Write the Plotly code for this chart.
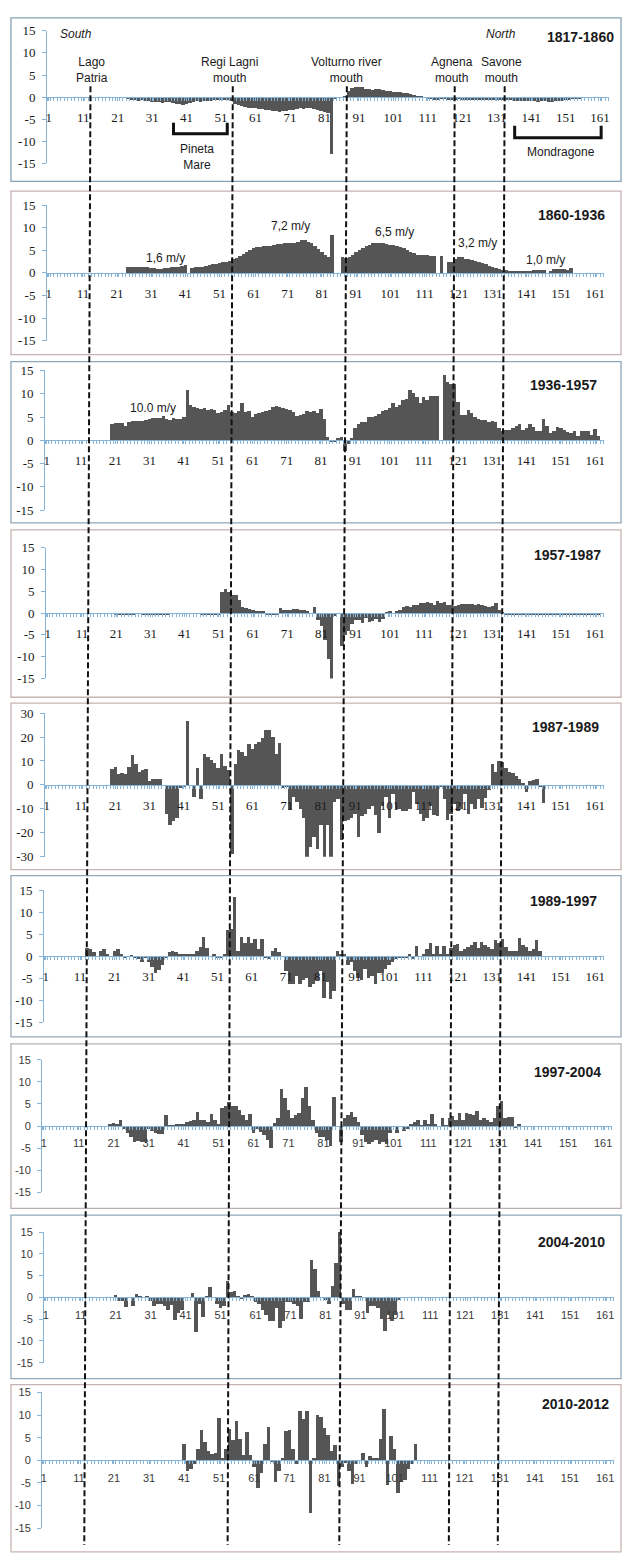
import plotly.graph_objects as go

W, H = 626, 1553

transects = list(range(1, 163))
x_tick_labels = [1, 11, 21, 31, 41, 51, 61, 71, 81, 91, 101, 111, 121, 131, 141, 151, 161]

periods = ["1817-1860", "1860-1936", "1936-1957", "1957-1987", "1987-1989",
           "1989-1997", "1997-2004", "2004-2010", "2010-2012"]

r1817 = [0, 0, 0, 0, 0, 0, 0, 0, 0, 0,
         0, 0, 0, 0, 0, 0, 0, 0, 0, 0,
         0, 0, 0, -0.3, -0.5, -0.5, -0.8, -0.6, -0.8, -0.9,
         -1.0, -1.1, -1.0, -1.2, -1.1, -1.0, -1.3, -1.5, -1.6, -1.7,
         -1.4, -1.2, -1.0, -0.9, -1.0, -0.8, -0.9, -0.8, -0.7, -0.6,
         -0.6, -0.5, -0.5, -0.8, -1.5, -1.8, -2.0, -2.2, -2.3, -2.4,
         -2.5, -2.6, -2.7, -2.8, -2.9, -3.0, -3.1, -3.2, -3.0, -3.1,
         -2.9, -2.8, -2.6, -2.5, -2.7, -2.4, -2.3, -2.6, -2.8, -3.0,
         -3.4, -3.6, -12.7, -0.3, 0, 0, 0.3, 1.5, 2.2, 2.4,
         2.4, 2.3, 2.0, 1.8, 1.7, 1.9, 1.8, 1.6, 1.5, 1.4,
         1.3, 1.2, 1.1, 1.0, 0.9, 0.8, 0.6, 0.4, 0.2, 0,
         -0.3, -0.4, -0.5, -0.5, -0.4, -0.3, -0.5, -0.6, -0.5, -0.4,
         -0.5, -0.6, -0.7, -0.6, -0.7, -0.6, -0.5, -0.6, -0.7, -0.6,
         -0.5, -0.6, -0.7, -0.6, -0.7, -0.8, -0.8, -0.9, -0.8, -0.9,
         -0.8, -0.9, -1.0, -0.8, -0.9, -1.0, -1.1, -0.9, -0.8, -0.9,
         -0.7, -0.6, -0.4, -0.3, -0.2, 0, 0, 0, 0, 0,
         0, 0]

r1860 = [0, 0, 0, 0, 0, 0, 0, 0, 0, 0,
         0, 0, 0, 0, 0, 0, 0, 0, 0, 0,
         0, 0, 0, 1.3, 1.4, 1.4, 1.3, 1.3, 1.2, 1.2,
         1.1, 1.0, 0.9, 0.9, 1.0, 1.1, 1.2, 1.3, 1.4, 1.5,
         1.7, 0, 1.1, 1.2, 1.3, 1.4, 1.6, 1.8, 1.9, 2.0,
         2.2, 2.3, 2.5, 2.7, 3.0, 3.3, 3.7, 4.1, 4.5, 5.0,
         5.4, 5.7, 5.8, 5.9, 6.0, 6.0, 6.1, 6.3, 6.4, 6.5,
         6.5, 6.6, 6.6, 6.8, 7.2, 7.2, 6.9, 6.6, 6.0, 5.2,
         4.5, 4.0, 3.6, 8.3, 0, 0, 3.4, 3.3, 3.6, 4.0,
         4.5, 5.0, 5.5, 5.9, 6.2, 6.5, 6.6, 6.6, 6.5, 6.3,
         6.2, 6.2, 6.0, 5.8, 5.5, 5.0, 4.6, 4.3, 4.0, 4.0,
         3.9, 3.9, 3.8, 3.8, 0, 3.7, 0, 2.3, 2.4, 3.0,
         3.5, 3.4, 3.1, 3.0, 2.8, 2.7, 2.5, 2.2, 1.9, 1.6,
         1.3, 1.0, 0.8, 0.6, 0.6, 0.5, 0.4, 0.3, 0.3, 0.2,
         0.4, 0.5, 0.6, 0.6, 0.7, 0.7, 0, 0.2, 0.8, 0.9,
         0.9, 0.8, 0.7, 1.1, 0, 0, 0, 0, 0, 0,
         0, 0]

r1936 = [0, 0, 0, 0, 0, 0, 0, 0, 0, 0,
         0, 0, 0, 0, 0, 0, 0, 0, 0, 3.5,
         3.7, 3.7, 3.6, 3.0, 3.8, 4.0, 4.0, 4.1, 4.0, 4.2,
         4.5, 4.6, 4.6, 4.7, 5.2, 4.5, 4.3, 4.6, 4.4, 4.5,
         4.8, 10.6, 7.5, 7.0, 6.8, 6.6, 6.8, 6.5, 6.6, 6.4,
         5.8, 6.0, 6.5, 7.5, 6.0, 5.8, 6.2, 8.0, 6.0, 6.3,
         5.0, 5.5, 5.7, 6.0, 6.2, 6.5, 7.0, 7.3, 7.0, 6.8,
         6.7, 6.5, 6.0, 5.2, 5.3, 5.5, 6.2, 6.0, 6.1, 5.8,
         6.6, 4.5, 0.5, -0.5, -0.5, 0.3, 0.6, -2.5, -1.0, 0.3,
         2.5, 3.5, 3.8, 3.8, 5.0, 4.8, 5.2, 5.5, 6.3, 6.5,
         6.8, 7.9, 7.0, 7.5, 8.5, 8.8, 10.7, 10.0, 9.2, 8.0,
         9.2, 8.5, 9.5, 9.5, 9.5, 0, 14.0, 12.5, 12.0, 12.0,
         8.2, 5.3, 5.3, 6.5, 5.8, 5.0, 4.5, 4.2, 4.3, 3.8,
         4.0, 3.9, 2.5, 2.0, 2.1, 2.2, 2.6, 3.0, 3.5, 2.1,
         2.5, 3.3, 2.8, 2.0, 1.8, 4.5, 3.0, 1.5, 2.0, 2.8,
         2.5, 2.1, 1.7, 1.5, 1.8, 0.8, 2.0, 1.8, 2.0, 1.0,
         2.3, 0.8]

r1957 = [0, 0, 0, 0, 0, 0, 0, 0, 0, 0,
         0, 0, 0, 0, 0, 0, 0, 0, 0, 0,
         -0.2, -0.2, -0.2, -0.2, -0.2, -0.2, 0, 0, -0.2, -0.2,
         -0.2, -0.2, -0.2, -0.2, -0.2, -0.2, 0, 0, 0, 0,
         0, 0, 0, 0, 0, -0.2, -0.2, -0.2, -0.2, -0.2,
         -0.3, 5.0, 5.5, 5.0, 4.3, 4.2, 3.0, 1.5, 1.3, 1.0,
         0.7, 0.6, 0.6, 0.5, -0.3, -0.3, -0.3, -0.3, 1.2, 0.7,
         0.7, 0.7, 1.0, 0.9, 0.8, 0.7, 0.5, 0, 1.5, -1.5,
         -3.0, -6.0, -10.5, -15.0, -0.5, 0, -7.5, -5.0, -4.0, -2.5,
         -1.5, -1.5, -2.3, -1.0, -2.0, -1.8, -1.3, -2.0, -1.2, 0.3,
         0.5, 0, 0.5, 0.8, 1.5, 1.8, 1.5, 2.0, 2.0, 2.4,
         2.3, 2.5, 2.3, 2.0, 2.8, 2.3, 2.5, 2.0, 2.0, 1.8,
         2.0, 2.1, 2.2, 2.1, 2.2, 2.0, 2.2, 2.0, 1.8, 1.5,
         1.8, 2.4, 0.8, 0.3, -0.2, -0.2, -0.2, -0.2, -0.2, -0.2,
         -0.2, -0.2, -0.2, -0.2, -0.2, -0.2, -0.2, -0.2, -0.2, -0.2,
         -0.2, -0.2, -0.2, -0.2, -0.2, -0.2, -0.2, -0.2, -0.2, -0.2,
         -0.2, -0.2]

r1987 = [0, 0, 0, 0, 0, 0, 0, 0, 0, 0,
         0, 0, 0, 0, 0, 0, 0, 0, 0, 6.5,
         7.3, 4.5, 5.0, 4.5, 7.5, 12.5, 8.5, 5.5, 6.0, 6.5,
         1.5, 2.5, 2.5, 2.3, 0, -12.0, -17.0, -15.0, -14.0, -1.5,
         -1.0, 26.5, 0, -5.0, 7.0, -6.0, 13.0, 11.5, 10.5, 9.0,
         7.0, 13.0, 8.0, 6.0, -29.0, 8.5, 14.5, 13.5, 12.0, 17.0,
         15.0, 17.0, 18.0, 19.5, 23.0, 23.0, 20.0, 13.0, 17.5, -1.5,
         -1.0, -10.5, -5.0, -7.0, -10.0, -14.0, -30.0, -26.0, -22.0, -27.0,
         -17.0, -30.0, -17.0, -30.0, -7.0, -6.0, -23.0, -15.0, -14.5, -14.0,
         -12.0, -22.0, -13.0, -12.0, -10.0, -9.0, -12.5, -20.0, -9.0, -5.0,
         -14.0, -4.0, -10.0, -10.0, -11.0, -11.0, -10.0, -3.0, -8.0, -12.0,
         -15.0, -14.0, -9.0, -12.5, -13.0, -1.0, -6.0, -14.5, -12.0, -8.0,
         -11.0, -10.0, -4.0, -12.0, -8.0, -10.0, -6.0, -9.5, -5.5, -2.0,
         8.5, 5.5, 10.0, 9.5, 7.0, 5.5, 5.0, 3.5, 2.5, 0.5,
         -3.0, 1.5, 2.0, 2.5, -1.0, -7.5, 0, 0, 0, 0,
         0, 0, 0, 0, 0, 0, 0, 0, 0, 0,
         0, 0]

r1989 = [0, 0, 0, 0, 0, 0, 0, 0, 0, 0,
         0, 0, 1.8, 1.5, 0.8, 0, 1.2, 1.5, 0.5, 0,
         1.2, 1.6, 0.5, -0.5, 0, -0.3, -0.5, -0.8, -1.3, -0.5,
         -1.5, -2.5, -3.8, -3.2, -2.0, -0.5, 0.8, 1.0, 0.8, 0.5,
         0.2, 0.2, 0.2, 0.5, 1.0, 2.0, 4.2, 1.8, 0, 0.5,
         -0.5, -0.6, 0.2, 5.8, 6.2, 13.5, 1.0, 4.2, 3.0, 4.3,
         3.0, 3.8, 1.5, 3.8, -0.5, -0.8, 1.0, 1.8, 0.8, 0,
         -3.5, -6.5, -6.5, -4.5, -6.5, -5.5, -5.0, -7.0, -6.5, -5.5,
         -3.5, -9.5, -6.0, -9.8, -8.0, 1.0, 0.5, 0.5, -2.0, -1.5,
         -3.5, -5.0, -5.5, -3.0, -5.0, -4.5, -6.5, -4.0, -4.0, -3.0,
         -2.0, -1.5, -0.8, -0.5, -0.5, -0.5, 0.5, -0.8, 2.2, 0,
         0.5, 1.5, 3.0, 0.5, 2.2, 0.5, 2.2, 0.5, 1.8, 2.5,
         2.6, 1.0, 1.5, 2.0, 2.5, 3.2, 1.8, 3.2, 2.5, 2.0,
         1.5, 3.5, 3.0, 3.8, 2.0, 1.2, 1.2, 1.2, 4.0, 2.5,
         2.0, 1.2, 1.5, 3.5, 1.0, 0, 0, 0, 0, 0,
         0, 0, 0, 0, 0, 0, 0, 0, 0, 0,
         0, 0]

r1997 = [0, 0, 0, 0, 0, 0, 0, 0, 0, 0,
         0, 0, 0, 0, 0, 0, 0, 0, 0, 0.5,
         0.8, 0.6, 1.5, -0.5, -1.5, -2.5, -3.5, -3.3, -3.5, -3.5,
         -0.5, -1.0, -1.5, -1.8, -1.8, 2.5, 0.2, 0.3, 0.5, 0.6,
         0.5, 1.0, 1.2, 1.5, 3.2, 1.5, 1.5, 1.0, 2.8, 1.5,
         0.5, 4.2, 4.5, 5.5, 4.5, 4.5, 3.8, 2.5, 1.5, 2.8,
         -1.5, -0.5, -1.2, -2.0, -3.0, -4.8, 0.8, 1.8, 8.5, 6.5,
         3.8, 2.0, 2.5, 3.0, 6.5, 9.0, 4.5, 1.5, -1.5, -2.5,
         -2.5, -3.0, -4.5, 6.7, 0, -3.5, 2.0, 2.5, 3.2, 2.2,
         1.0, -2.0, -3.5, -4.0, -3.5, -3.0, -4.0, -3.5, -4.0, -1.5,
         0, -1.5, 0, -1.0, -0.5, 0.5, 1.0, 1.5, 0.3, 1.5,
         0.5, 2.8, 0.5, 0, 1.8, 0.3, 2.0, 2.3, 1.5, 3.0,
         1.5, 3.0, 2.7, 2.5, 3.5, 1.5, 1.8, 1.5, 1.0, 2.0,
         4.5, 5.8, 2.0, 2.2, 2.2, -0.3, 0.5, 0, 0, 0,
         0, 0, 0, 0, 0, 0, 0, 0, 0, 0,
         0, 0, 0, 0, 0, 0, 0, 0, 0, 0,
         0, 0]

r2004 = [0, 0, 0, 0, 0, 0, 0, 0, 0, 0,
         0, 0, 0, 0, 0, 0, 0, 0, 0, 0,
         0.6, -0.8, -0.8, -2.3, 0, -2.0, 0.8, 0.3, 0, 0.4,
         -0.8, -2.0, -1.5, -1.5, -2.0, -3.0, -1.8, -5.3, -3.5, -3.0,
         0, 0, 1.0, -8.0, -1.5, -4.5, 0.3, 2.3, 0, -1.5,
         -2.5, -2.0, 3.8, 1.2, 1.5, 0.3, -0.3, 0.5, 0.7, 0.4,
         -1.0, -1.5, -3.0, -4.0, -5.5, -5.5, -2.5, -7.0, -5.5, -1.0,
         -1.0, -1.5, -2.0, -5.0, -1.0, -1.0, 8.5, 6.5, 1.5, 0,
         -0.5, -1.5, 2.5, 8.0, 15.0, -1.5, -3.0, -3.0, 2.0, 0.3,
         0.3, 0, -3.5, -2.0, -2.0, -2.5, -5.0, -7.8, -4.0, -5.5,
         -4.0, -0.5, 0, 0, 0, 0, 0, 0, 0, 0,
         0, 0, 0, 0, 0, 0, 0, 0, 0, 0,
         0, 0, 0, 0, 0, 0, 0, 0, 0, 0,
         0, 0, 0, 0, 0, 0, 0, 0, 0, 0,
         0, 0, 0, 0, 0, 0, 0, 0, 0, 0,
         0, 0, 0, 0, 0, 0, 0, 0, 0, 0,
         0, 0]

r2010 = [0, 0, 0, 0, 0, 0, 0, 0, 0, 0,
         0, 0, 0, 0, 0, 0, 0, 0, 0, 0,
         0, 0, 0, 0, 0, 0, 0, 0, 0, 0,
         0, 0, 0, 0, 0, 0, 0, 0, 0, 0,
         3.6, -2.5, -2.0, -1.0, 2.5, 6.5, 4.0, 2.0, 1.2, 1.5,
         9.2, 0.3, 2.5, 6.8, 4.3, 8.5, 4.5, 1.0, 6.2, 1.0,
         -1.5, -6.3, -3.0, 3.5, 7.2, -0.5, -5.0, -2.5, 0.5, 6.3,
         6.5, 2.3, -1.0, 10.8, 9.0, 10.7, -11.8, 0.3, 10.0, 9.5,
         7.0, 5.5, 2.0, 3.3, -5.8, -1.5, -0.8, -2.5, -5.3, -1.0,
         0, 1.5, -1.5, 0.8, 0.5, 0.5, 4.5, 11.2, -5.5, 5.2,
         2.5, -7.3, -4.8, -4.5, -2.0, -1.0, 3.5, 0, 0, 0,
         0, 0, 0, 0, 0, 0, 0, 0, 0, 0,
         0, 0, 0, 0, 0, 0, 0, 0, 0, 0,
         0, 0, 0, 0, 0, 0, 0, 0, 0, 0,
         0, 0, 0, 0, 0, 0, 0, 0, 0, 0,
         0, 0, 0, 0, 0, 0, 0, 0, 0, 0,
         0, 0]

series = [r1817, r1860, r1936, r1957, r1987, r1989, r1997, r2004, r2010]
y_limits = [15, 15, 15, 15, 30, 15, 15, 15, 15]
y_steps = [5, 5, 5, 5, 10, 5, 5, 5, 5]

# river mouths (transect number, top-panel scale) at top and bottom of the figure
mouth_top = [13.1, 54.4, 87.5, 118.8, 133.3]
mouth_bottom = [11.3, 52.9, 85.3, 117.1, 131.3]

# average rates (panel 2 and 3)
rate_labels_1860 = ["1,6 m/y", "7,2 m/y", "6,5 m/y", "3,2 m/y", "1,0 m/y"]
rate_labels_1936 = ["10.0 m/y"]

# ---------------- layout geometry (pixels) ----------------
geom = [
    (11, 176, 24, 158, 47, 601, (581, 30), "#86a2b6", True),
    (186, 351, 200, 337, 47, 596, (572, 210), "#c7b3b1", True),
    (358, 521, 367, 508, 45, 596, (564, 382), "#8ea8bb", True),
    (528, 697, 546, 678, 46, 596, (568, 553), "#c7b3b1", True),
    (703, 871, 713, 858, 45, 596, (566, 727), "#c7b3b1", True),
    (877, 1040, 892, 1025, 44, 596, (564, 903), "#98a8b6", True),
    (1047, 1213, 1063, 1197, 42, 604, (568, 1075), "#b8b0ae", False),
    (1220, 1385, 1237, 1369, 44, 606, (572, 1247), "#90aabb", False),
    (1391, 1560, 1399, 1536, 42, 606, (576, 1411), "#c7b3b1", False),
]

def fx(px):
    return px / W

def fy(py):
    return 1 - py / H

AX = "#86b3d8"
BAR = "#555555"

fig = go.Figure()
shapes = []
annotations = []
layout = {}

for i, (vals, per, ylim, ystep, g) in enumerate(zip(series, periods, y_limits, y_steps, geom)):
    n = i + 1
    sfx = "" if n == 1 else str(n)
    bt, bb, yt, yb, p1, p161, tpos, bcol, serif = g
    s = (p161 - p1) / 160.0
    xl = p1 - 0.5 * s
    xr = p1 + 162.5 * s
    ydom = [fy(yb), fy(yt)]
    zero_pos = (ydom[0] + ydom[1]) / 2

    fig.add_trace(go.Bar(x=transects, y=vals, xaxis="x" + sfx, yaxis="y" + sfx,
                         marker=dict(color=BAR, line=dict(width=0)),
                         showlegend=False, hoverinfo="x+y"))

    if serif:
        tfont = dict(family="Liberation Serif, Times New Roman, serif", size=13, color="#1a1a1a")
    else:
        tfont = dict(family="Liberation Sans, Arial, sans-serif", size=11, color="#3a3a3a")

    layout["xaxis" + sfx] = dict(
        domain=[fx(xl), fx(xr)], range=[0.5, 163.5], anchor="free", position=zero_pos,
        showline=True, linecolor=AX, linewidth=1,
        tickmode="array", tickvals=x_tick_labels, ticktext=[str(v) for v in x_tick_labels],
        ticks="outside", ticklen=3, tickcolor=AX, tickwidth=1,
        ticklabelstandoff=5 if serif else 4,
        minor=dict(ticks="outside", ticklen=3, tickcolor=AX, tickwidth=1,
                   tick0=0.5, dtick=1, showgrid=False),
        tickfont=tfont, showgrid=False, zeroline=False, fixedrange=True,
    )
    ytv = list(range(-ylim, ylim + 1, ystep))
    layout["yaxis" + sfx] = dict(
        domain=ydom, range=[-ylim, ylim], anchor="x" + sfx,
        tickmode="array", tickvals=ytv, ticktext=[str(v) for v in ytv],
        showline=True, linecolor=AX, linewidth=1,
        ticks="outside", ticklen=4, tickcolor=AX, ticklabelstandoff=4,
        tickfont=tfont, showgrid=False, zeroline=False, fixedrange=True,
    )

    shapes.append(dict(type="rect", xref="paper", yref="paper",
                       x0=fx(9), x1=fx(622), y0=fy(bb), y1=fy(bt),
                       line=dict(color=bcol, width=1.3), layer="below"))
    annotations.append(dict(text="<b>" + per + "</b>", xref="paper", yref="paper",
                            x=fx(tpos[0]), y=fy(tpos[1]), xanchor="center", yanchor="middle",
                            showarrow=False,
                            font=dict(family="Liberation Sans, Arial, sans-serif", size=14,
                                      color="#1a1a1a")))

# dashed mouth lines across all panels
for xt, xb in zip(mouth_top, mouth_bottom):
    shapes.append(dict(type="line", xref="x", yref="paper", x0=xt, x1=xb,
                       y0=fy(80), y1=fy(1553),
                       line=dict(color="#111111", width=2, dash="6px,3px"), layer="above"))

# brackets (panel 1)
pineta = (37.2, 52.8)
mondragone = (136.2, 161.3)
shapes.append(dict(type="path", xref="x", yref="paper",
                   path=f"M {pineta[0]},{fy(117)} L {pineta[0]},{fy(128)} L {pineta[1]},{fy(128)} L {pineta[1]},{fy(117)}",
                   line=dict(color="#111111", width=3)))
shapes.append(dict(type="path", xref="x", yref="paper",
                   path=f"M {mondragone[0]},{fy(120)} L {mondragone[0]},{fy(132)} L {mondragone[1]},{fy(132)} L {mondragone[1]},{fy(120)}",
                   line=dict(color="#111111", width=3)))

SANS = "Liberation Sans, Arial, sans-serif"

def add_text(txt, px, py, size=12, anchor="center", italic=False):
    annotations.append(dict(text=("<i>" + txt + "</i>") if italic else txt,
                            xref="paper", yref="paper", x=fx(px), y=fy(py),
                            xanchor=anchor, yanchor="middle", showarrow=False,
                            font=dict(family=SANS, size=size, color="#1a1a1a")))

add_text("South", 56, 27, 12, "left", True)
add_text("North", 484, 27, 12, "left", True)
add_text("Lago<br>Patria", 90, 64)
add_text("Regi Lagni<br>mouth", 229, 64)
add_text("Volturno river<br>mouth", 346, 64)
add_text("Agnena<br>mouth", 452, 64)
add_text("Savone<br>mouth", 502, 64)
add_text("Pineta<br>Mare", 196, 151)
add_text("Mondragone", 562, 146)

for txt, (px, py) in zip(rate_labels_1860, [(164, 253), (290, 221), (394, 227), (478, 238), (546, 255)]):
    add_text(txt, px, py, 12)
add_text(rate_labels_1936[0], 152, 405, 12)

fig.update_layout(
    width=W, height=H, margin=dict(l=0, r=0, t=0, b=0),
    paper_bgcolor="white", plot_bgcolor="rgba(0,0,0,0)",
    bargap=0, shapes=shapes, annotations=annotations, showlegend=False,
    **layout,
)

fig.write_html("out.html", config={"displayModeBar": False},
               post_script="document.body.style.margin='0';document.body.style.overflow='hidden';")
